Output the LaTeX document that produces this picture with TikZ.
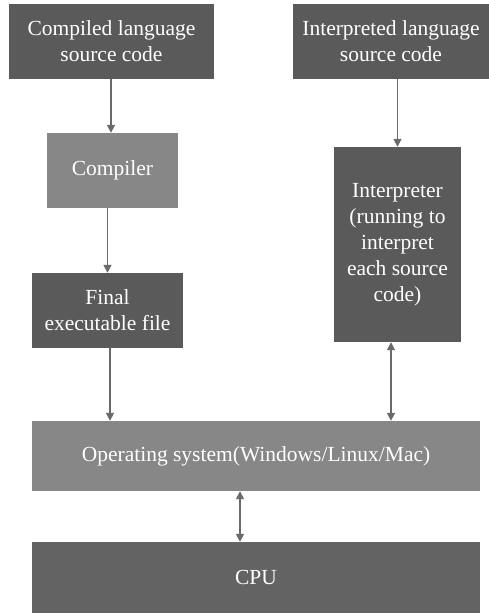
\documentclass[tikz,border=0pt]{standalone}
\usepackage{fontspec}
\setmainfont{Liberation Serif}
\usetikzlibrary{arrows.meta}
\definecolor{darkbox}{HTML}{5A5A5A}
\definecolor{lightbox}{HTML}{878787}
\definecolor{cpubox}{HTML}{636363}
\definecolor{arrowcol}{HTML}{6A6A6A}
\begin{document}
\begin{tikzpicture}[x=1pt,y=1pt,
  box/.style={rectangle, inner sep=0pt, text=white, align=center,
    font=\fontsize{21.5}{26}\selectfont},
  conn/.style={draw=arrowcol, line width=1.6pt, -{Triangle[length=8pt,width=8pt]}},
  bconn/.style={draw=arrowcol, line width=1.6pt, {Triangle[length=8pt,width=8pt]}-{Triangle[length=8pt,width=8pt]}}]
\useasboundingbox[fill=white] (0,0) rectangle (489,-613);
\node[box, fill=darkbox, minimum width=205, minimum height=75] (src1) at (111.5,-41.5) {Compiled language\\source code};
\node[box, fill=darkbox, minimum width=196, minimum height=75] (src2) at (391,-41.5) {Interpreted language\\source code};
\node[box, fill=lightbox, minimum width=131, minimum height=75] (comp) at (112.5,-170.5) {Compiler};
\node[box, fill=darkbox, minimum width=151, minimum height=75] (final) at (107.5,-310.5) {Final\\executable file};
\node[box, fill=darkbox, minimum width=127, minimum height=195] (interp) at (397.5,-244.5) {Interpreter\\(running to\\interpret\\each source\\code)};
\node[box, fill=lightbox, minimum width=448, minimum height=70] (os) at (256,-456) {Operating system(Windows/Linux/Mac)};
\node[box, fill=cpubox, minimum width=448, minimum height=71] (cpu) at (256,-577.5) {CPU};
\coordinate (a1) at ([xshift=-0.5pt]src1.south);
\draw[conn] (a1) -- (a1 |- comp.north);
\coordinate (a2) at (comp.south -| final.north);
\draw[conn] (a2) -- (final.north);
\coordinate (a3) at ([xshift=2.5pt]final.south);
\draw[conn] (a3) -- (a3 |- os.north);
\coordinate (a4) at (interp.north |- src2.south);
\draw[conn] (a4) -- (interp.north);
\coordinate (a5) at ([xshift=-6.5pt]interp.south);
\draw[bconn] (a5) -- (a5 |- os.north);
\coordinate (a6) at ([xshift=-16pt]os.south);
\draw[bconn] (a6) -- (a6 |- cpu.north);
\end{tikzpicture}
\end{document}
